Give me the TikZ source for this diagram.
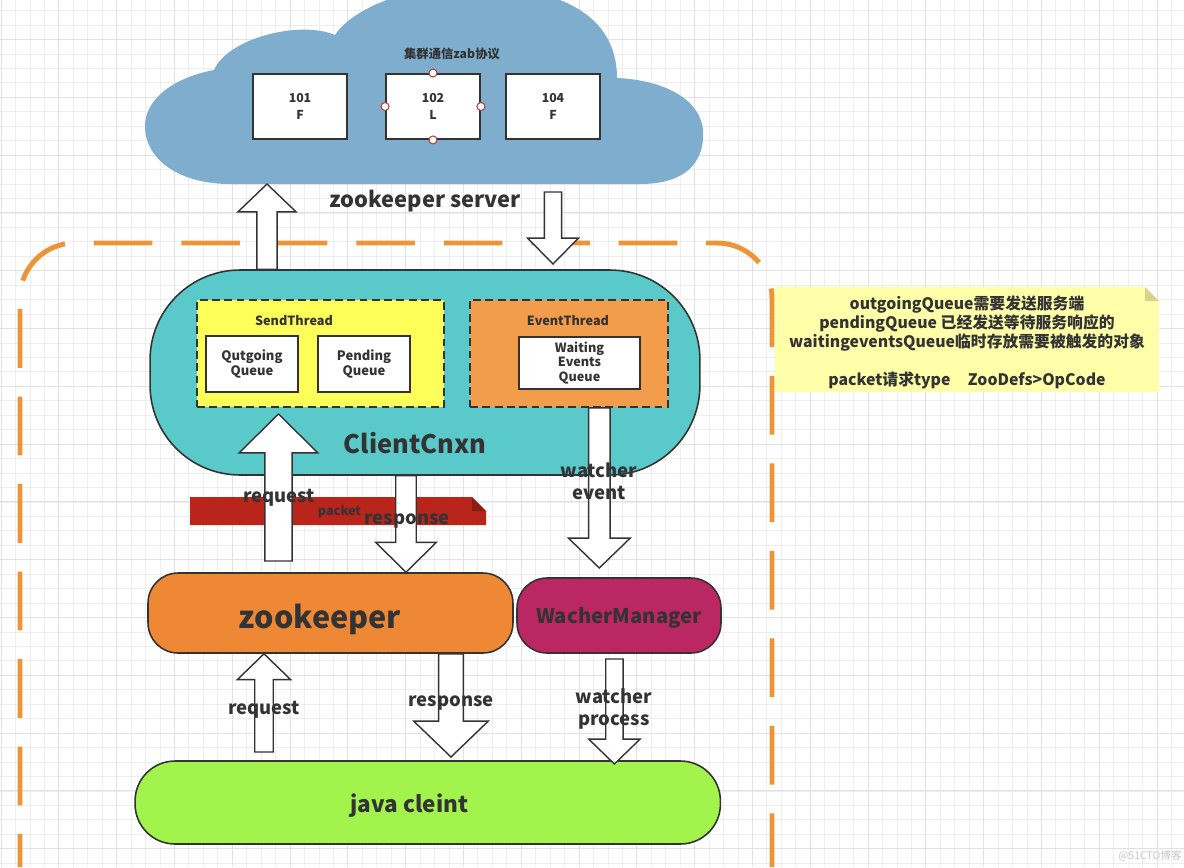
\documentclass[tikz,border=0pt]{standalone}
\usepackage{fontspec}
\setmainfont{Noto Sans CJK SC}
\usetikzlibrary{calc}

\definecolor{ink}{RGB}{51,51,51}
\definecolor{gridlo}{RGB}{238,238,238}
\definecolor{gridhi}{RGB}{226,226,226}
\definecolor{cloudblue}{RGB}{126,173,205}
\definecolor{fenceorange}{RGB}{238,148,56}
\definecolor{cnxnteal}{RGB}{89,201,201}
\definecolor{sendyellow}{RGB}{255,255,89}
\definecolor{eventorange}{RGB}{242,157,76}
\definecolor{zkorange}{RGB}{239,136,53}
\definecolor{wachermag}{RGB}{187,39,98}
\definecolor{javalime}{RGB}{162,243,76}
\definecolor{bannerred}{RGB}{185,36,27}
\definecolor{bannerdark}{RGB}{140,27,20}
\definecolor{notefill}{RGB}{255,255,170}
\definecolor{notefold}{RGB}{214,212,140}
\definecolor{handlered}{RGB}{176,64,64}

\def\px{0.5669pt}

\tikzset{
  gridminor/.style={draw=gridlo, line width=0.45pt},
  gridmajor/.style={draw=gridhi, line width=0.55pt},
  fence/.style={draw=fenceorange, line width=2.83pt, rounded corners=1.1cm,
    dash pattern=on 33.4pt off 16.4pt, dash phase=14.7pt},
  srvbox/.style={draw=ink, line width=1.1pt, fill=white, minimum width=1.88cm,
    minimum height=1.3cm, align=center, text=ink, inner sep=0pt,
    font=\bfseries\fontsize{7}{9.5}\selectfont},
  qbox/.style={srvbox, minimum width=1.84cm, minimum height=1.12cm,
    font=\bfseries\fontsize{7.4}{9}\selectfont},
  thread/.style={draw=ink, line width=1pt, dash pattern=on 4.5pt off 2.5pt,
    inner sep=0pt},
  pill/.style={draw=ink, line width=0.9pt, inner sep=0pt, text=ink},
  lbl/.style={text=ink, align=center, inner sep=0pt,
    font=\bfseries\fontsize{10.5}{12.3}\selectfont},
  small/.style={text=ink, inner sep=0pt, font=\bfseries\fontsize{7.2}{9}\selectfont},
  handle/.style={draw=handlered, fill=white, line width=0.6pt},
  blkarrow/.style={draw=ink, fill=white, line width=0.8pt, line join=miter},
}

% vertical block arrow: tail, tip, half shaft, half head, head length (px)
\newcommand{\blockarrow}[5]{%
  \draw[blkarrow] let \p1=(#1), \p2=(#2), \n1={sign(\y2-\y1)*#5*\px} in
    ({\x1-#3*\px},\y1) -- ({\x1-#3*\px},{\y2-\n1}) -- ({\x1-#4*\px},{\y2-\n1})
    -- (\x1,\y2) -- ({\x1+#4*\px},{\y2-\n1}) -- ({\x1+#3*\px},{\y2-\n1})
    -- ({\x1+#3*\px},\y1) -- cycle;}

\begin{document}
\begin{tikzpicture}[x=0.02cm, y=-0.02cm]
    \useasboundingbox (0,0) rectangle (1184,867);
    \clip (0,0) rectangle (1184,867);
    \fill[white] (0,0) rectangle (1184,867);

    % background grid
    \foreach \i in {0,...,81} \draw[gridminor] ({1+\i*14.45},0) -- ++(0,867);
    \foreach \j in {0,...,59} \draw[gridminor] (0,{10.6+\j*14.45}) -- ++(1184,0);
    \foreach \i in {0,...,20} \draw[gridmajor] ({1+\i*57.8},0) -- ++(0,867);
    \foreach \j in {0,...,14} \draw[gridmajor] (0,{39.5+\j*57.8}) -- ++(1184,0);

    % server cloud
    \fill[cloudblue] (230,184) -- (640,184)
        .. controls (690,184) and (705,158) .. (703,130)
        .. controls (700,98) and (662,80) .. (617,78)
        .. controls (617,15) and (560,-14) .. (470,-14)
        .. controls (400,-14) and (350,12) .. (335,35)
        .. controls (300,20) and (228,38) .. (214,70)
        .. controls (172,78) and (145,100) .. (145,126)
        .. controls (145,160) and (180,184) .. (230,184) -- cycle;
    \coordinate (cloudbot) at (425,184);
    \node[small, font=\bfseries\fontsize{7}{9}\selectfont] (zab) at (452,54) {集群通信zab协议};
    \node[srvbox] (s101) at (300,106.5) {101\\F};
    \node[srvbox] (s102) at (433,106.5) {102\\L};
    \node[srvbox] (s104) at (553,106.5) {104\\F};
    \foreach \a in {north,south,east,west}
        \draw[handle] (s102.\a) circle (4);
    \node[lbl, font=\bfseries\fontsize{12.4}{14}\selectfont] (srvlbl) at (425,201) {zookeeper server};

    % client boundary
    \draw[fence] (20,867) -- (20,243) -- (772,243) -- (772,867);

    % ClientCnxn
    \node[pill, fill=cnxnteal, minimum width=11cm, minimum height=4.1cm,
        rounded corners=1.8cm] (cnxn) at (425,372.5) {};
    \node[lbl, font=\bfseries\fontsize{14.5}{17}\selectfont] (cnxnlbl) at (415,443) {ClientCnxn};
    \node[thread, fill=sendyellow, minimum width=4.94cm, minimum height=2.14cm] (send) at (320.5,353.5) {};
    \node[small] (sendlbl) at (294,321) {SendThread};
    \node[qbox] (outq) at (252,364) {Qutgoing\\Queue};
    \node[qbox] (pendq) at (364,364) {Pending\\Queue};
    \node[thread, fill=eventorange, minimum width=3.96cm, minimum height=2.14cm] (event) at (569,353.5) {};
    \node[small] (eventlbl) at (568,321) {EventThread};
    \node[qbox, minimum width=2.42cm, minimum height=1.04cm,
        font=\bfseries\fontsize{7.2}{8.4}\selectfont] (waitq) at (579.5,363) {Waiting\\Events\\Queue};

    % packet banner
    \fill[bannerred] (190,497) -- (472,497) -- (486,511) -- (486,525) -- (190,525) -- cycle;
    \fill[bannerdark] (472,497) -- (486,511) -- (472,511) -- cycle;
    \node[small] (pkt) at (339.5,512) {packet};

    % zookeeper, watcher manager, java client
    \node[pill, fill=zkorange, minimum width=7.3cm, minimum height=1.6cm, rounded corners=0.6cm,
        label={[xshift=-0.21cm, yshift=-0.13cm, text=ink, font=\bfseries\fontsize{17.4}{20}\selectfont]center:zookeeper}]
        (zk) at (330.5,613) {};
    \node[pill, fill=wachermag, minimum width=4.08cm, minimum height=1.5cm, rounded corners=0.6cm,
        label={[yshift=-0.04cm, text=ink, font=\bfseries\fontsize{11.5}{13}\selectfont]center:WacherManager}]
        (wm) at (619,615.5) {};
    \node[pill, fill=javalime, minimum width=11.71cm, minimum height=1.66cm, rounded corners=0.8cm,
        label={[xshift=-0.37cm, yshift=-0.06cm, text=ink, font=\bfseries\fontsize{12.8}{15}\selectfont]center:java cleint}]
        (java) at (427.75,802.5) {};

    % block arrows
    \coordinate (srvupA) at (267,0 |- cnxn.north);
    \coordinate (srvupB) at (267,0 |- cloudbot);
    \coordinate (srvdnA) at (553,192);
    \coordinate (srvdnB) at (553,264);
    \coordinate (reqA) at (278.5,561);
    \coordinate (reqB) at (278.5,414);
    \coordinate (respA) at (406,0 |- cnxn.south);
    \coordinate (respB) at (406,0 |- zk.north);
    \coordinate (wevA) at (599.3,0 |- event.south);
    \coordinate (wevB) at (599.3,568);
    \coordinate (creqA) at (264,752);
    \coordinate (creqB) at (264,0 |- zk.south);
    \coordinate (crespA) at (451,0 |- zk.south);
    \coordinate (crespB) at (451,757);
    \coordinate (wprA) at (614.4,659);
    \coordinate (wprB) at (614.4,764);
    \blockarrow{srvupA}{srvupB}{10.2}{29.2}{28}
    \blockarrow{srvdnA}{srvdnB}{8.6}{25.5}{26}
    \blockarrow{reqA}{reqB}{13.75}{39.5}{39}
    \blockarrow{respA}{respB}{10.3}{30.5}{30}
    \blockarrow{wevA}{wevB}{10.8}{31}{30}
    \blockarrow{creqA}{creqB}{9.3}{26.8}{26}
    \blockarrow{crespA}{crespB}{12.4}{37.4}{36}
    \blockarrow{wprA}{wprB}{8.7}{25.8}{25}

    % arrow labels
    \node[lbl] (reqlbl) at (279,497.5) {request};
    \node[lbl] (resplbl) at (407,521) {response};
    \node[lbl] (wevlbl) at (599,481.5) {watcher\\event};
    \node[lbl] (creqlbl) at (264,709.5) {request};
    \node[lbl] (cresplbl) at (451,703.5) {response};
    \node[lbl] (wprlbl) at (614,709) {watcher\\process};

    % note
    \fill[notefill] (775,287) -- (1145,287) -- (1159,301) -- (1159,392) -- (775,392) -- cycle;
    \fill[notefold] (1145,287) -- (1159,301) -- (1145,301) -- cycle;
    \node[lbl, font=\bfseries\fontsize{9}{10.8}\selectfont] (note) at (967,342)
        {outgoingQueue需要发送服务端\\pendingQueue 已经发送等待服务响应的\\waitingeventsQueue临时存放需要被触发的对象\\[10.8pt]packet请求type\hspace{1.1em}ZooDefs>OpCode};

    \node[text=black!22, inner sep=0pt, font=\fontsize{6}{7}\selectfont] (mark) at (1150,856) {@51CTO博客};
\end{tikzpicture}
\end{document}
